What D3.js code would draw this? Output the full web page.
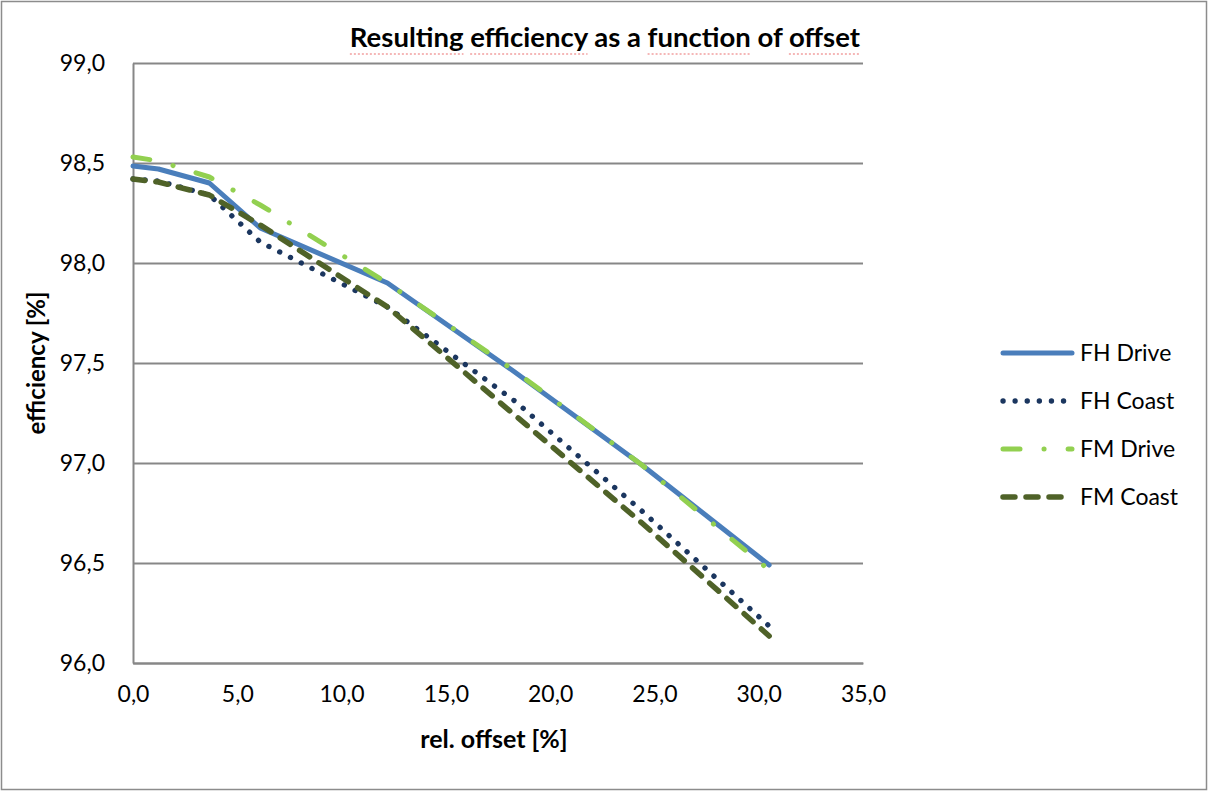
<!DOCTYPE html>
<html>
<head>
<meta charset="utf-8">
<script src="https://cdn.jsdelivr.net/npm/d3@7"></script>
<style>
  html, body { margin: 0; padding: 0; background: #fff; }
  svg text { font-family: Lato, "Open Sans", sans-serif; fill: #000; }
</style>
</head>
<body>
<svg id="chart" width="1208" height="791"></svg>
<script>
// Relative offset [%] at which efficiency was evaluated
const offsets = [0, 1.22, 3.66, 6.1, 12.2, 18.3, 24.4, 30.5];

// Efficiency [%] per operating mode
const fhDrive = [98.485, 98.47, 98.40, 98.175, 97.90, 97.455, 96.99, 96.49];
const fhCoast = [98.42, 98.41, 98.34, 98.105, 97.78, 97.31, 96.76, 96.185];
const fmDrive = [98.53, 98.51, 98.43, 98.29, 97.90, 97.46, 96.99, 96.465];
const fmCoast = [98.42, 98.405, 98.34, 98.19, 97.78, 97.24, 96.70, 96.135];

const seriesNames = ["FH Drive", "FH Coast", "FM Drive", "FM Coast"];
const xTicks = [0, 5, 10, 15, 20, 25, 30, 35];
const yTicks = [96.0, 96.5, 97.0, 97.5, 98.0, 98.5, 99.0];

const chartTitle = "Resulting efficiency as a function of offset";
const xTitle = "rel. offset [%]";
const yTitle = "efficiency [%]";
// Words flagged by the spell checker in the title
const flaggedWords = ["Resulting", "efficiency", "function", "offset"];

// Line styles for each series
const styles = {
  "FH Drive": { color: "#4A7EBB", width: 5, dash: null },
  "FH Coast": { color: "#1B365F", width: 5.3, dash: "0.1,12" },
  "FM Drive": { color: "#92D050", width: 5, dash: "17,24,0.1,24" },
  "FM Coast": { color: "#4F6228", width: 5.5, dash: "12,11" }
};

const series = [
  { name: seriesNames[0], values: fhDrive },
  { name: seriesNames[1], values: fhCoast },
  { name: seriesNames[2], values: fmDrive },
  { name: seriesNames[3], values: fmCoast }
];

const svg = d3.select("#chart");
const W = 1208, H = 791;
const plot = { left: 133, right: 863, top: 63, bottom: 663 };

const locale = d3.formatLocale({ decimal: ",", thousands: ".", grouping: [3], currency: ["", ""] });
const fmt = locale.format(".1f");

const x = d3.scaleLinear().domain([0, 35]).range([plot.left, plot.right]);
const y = d3.scaleLinear().domain([96, 99]).range([plot.bottom, plot.top]);

// Outer chart frame
svg.append("rect")
  .attr("x", 1.5).attr("y", 1.5)
  .attr("width", W - 3).attr("height", H - 3)
  .attr("fill", "#fff").attr("stroke", "#8c8c8c").attr("stroke-width", 1.5);

// Horizontal gridlines
svg.append("g")
  .attr("transform", `translate(${plot.left},0)`)
  .call(d3.axisRight(y).tickValues(yTicks).tickSize(plot.right - plot.left).tickFormat(""))
  .call(g => g.select(".domain").remove())
  .call(g => g.selectAll("line").attr("stroke", "#878787").attr("stroke-width", 2));

// Left axis
svg.append("g")
  .attr("transform", `translate(${plot.left},0)`)
  .call(d3.axisLeft(y).tickValues(yTicks).tickSize(0).tickPadding(28).tickFormat(fmt))
  .call(g => g.select(".domain").attr("stroke", "#878787").attr("stroke-width", 2))
  .call(g => g.selectAll("text").style("font-size", "23px").attr("font-family", null));

// Bottom axis
svg.append("g")
  .attr("transform", `translate(0,${plot.bottom})`)
  .call(d3.axisBottom(x).tickValues(xTicks).tickSize(0).tickPadding(23).tickFormat(fmt))
  .call(g => g.select(".domain").attr("stroke", "#878787").attr("stroke-width", 2))
  .call(g => g.selectAll("text").style("font-size", "23px").attr("font-family", null));

// Series lines
const line = d3.line()
  .x((d, i) => x(offsets[i]))
  .y(d => y(d));

svg.append("g").selectAll("path")
  .data(series)
  .join("path")
  .attr("d", d => line(d.values))
  .attr("fill", "none")
  .attr("stroke", d => styles[d.name].color)
  .attr("stroke-width", d => styles[d.name].width)
  .attr("stroke-dasharray", d => styles[d.name].dash)
  .attr("stroke-linecap", "round")
  .attr("stroke-linejoin", "round");

// Chart title with spell-check underlines
const titleText = svg.append("text")
  .attr("x", 860).attr("y", 47)
  .attr("text-anchor", "end")
  .style("font-size", "27.5px").style("font-weight", "bold")
  .text(chartTitle);

const tNode = titleText.node();
const squiggles = svg.append("g");
flaggedWords.forEach(word => {
  const idx = chartTitle.indexOf(word);
  if (idx < 0) return;
  const start = tNode.getStartPositionOfChar(idx).x;
  const len = tNode.getSubStringLength(idx, word.length);
  squiggles.append("line")
    .attr("x1", start).attr("x2", start + len)
    .attr("y1", 54).attr("y2", 54)
    .attr("stroke", "#f2a0a0").attr("stroke-width", 1.5)
    .attr("stroke-dasharray", "2,2");
});

svg.append("text")
  .attr("x", (plot.left + plot.right) / 2 - 4).attr("y", 748)
  .attr("text-anchor", "middle")
  .style("font-size", "25px").style("font-weight", "bold")
  .text(xTitle);

svg.append("text")
  .attr("transform", `translate(45,${(plot.top + plot.bottom) / 2}) rotate(-90)`)
  .attr("text-anchor", "middle")
  .style("font-size", "24px").style("font-weight", "bold")
  .text(yTitle);

// Legend
const legendRows = [353, 401, 449, 497];
const legend = svg.append("g").selectAll("g")
  .data(series)
  .join("g")
  .attr("transform", (d, i) => `translate(1003,${legendRows[i]})`);

legend.append("line")
  .attr("x1", 0).attr("x2", 69).attr("y1", 0).attr("y2", 0)
  .attr("stroke", d => styles[d.name].color)
  .attr("stroke-width", d => styles[d.name].width)
  .attr("stroke-dasharray", d => styles[d.name].dash)
  .attr("stroke-linecap", "round");

legend.append("text")
  .attr("x", 77).attr("y", 0).attr("dy", "0.35em")
  .style("font-size", "23px")
  .text(d => d.name);
</script>
</body>
</html>
